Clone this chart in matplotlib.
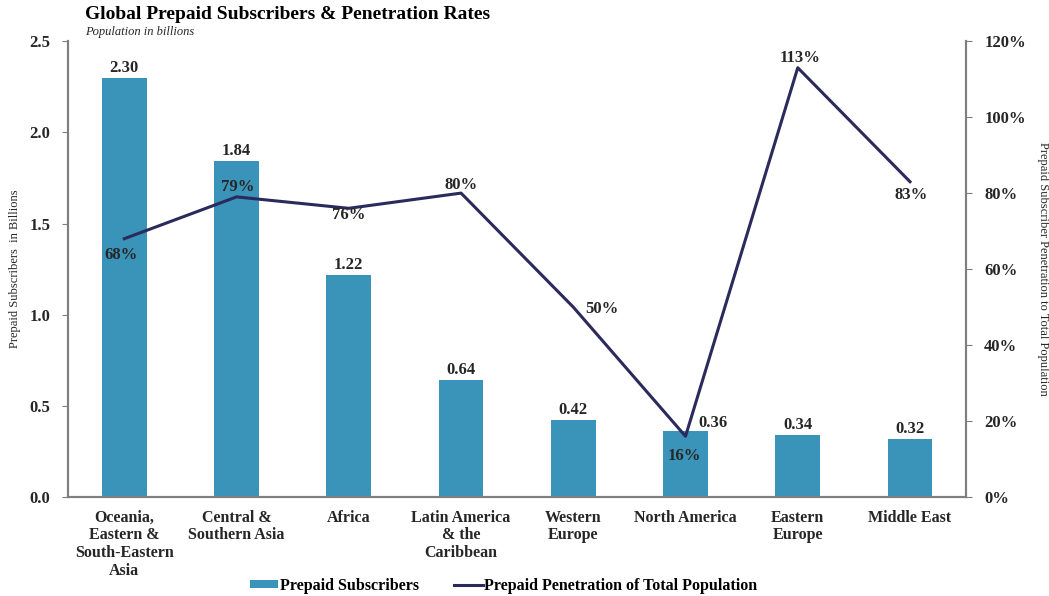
import numpy as np
import matplotlib
matplotlib.use("Agg")
import matplotlib.pyplot as plt
from matplotlib.ticker import FuncFormatter

plt.rcParams['font.family'] = ['Liberation Serif', 'DejaVu Serif']

regions = ["Oceania,\nEastern &\nSouth-Eastern\nAsia", "Central &\nSouthern Asia", "Africa",
           "Latin America\n& the\nCaribbean", "Western\nEurope", "North America",
           "Eastern\nEurope", "Middle East"]
subscribers = [2.30, 1.84, 1.22, 0.64, 0.42, 0.36, 0.34, 0.32]
penetration = [68, 79, 76, 80, 50, 16, 113, 83]

# label nudges in pixels (dx, dy) to keep them where the original had them
pct_offsets = [(-3, -16), (1, 10), (0, -7), (0, 8), (29, -2), (-1, -20), (2, 10), (1, -13)]
val_offsets = [(0, 10), (0, 10), (0, 10), (0, 10), (0, 10), (27, 8), (0, 10), (0, 10)]

bar_col = "#3a93b8"
line_col = "#2b2a5c"
spine_col = "#7f7f7f"
txt_col = "#262626"
px = 0.72  # points per pixel at dpi 100

fig = plt.figure(figsize=(10.49, 5.96), dpi=100)
ax = fig.add_axes([0.065, 0.166, 0.856, 0.765])
ax2 = ax.twinx()

x = np.arange(len(regions))
bars = ax.bar(x, subscribers, width=0.4, color=bar_col, label="Prepaid Subscribers", zorder=2)
for xi, v, (dx, dy) in zip(x, subscribers, val_offsets):
    ax.annotate(f"{v:.2f}", (xi, v), xytext=(dx * px, dy * px), textcoords="offset points",
                ha="center", va="center", fontsize=12, fontweight="bold", color=txt_col)

ln, = ax2.plot(x, penetration, color=line_col, lw=2.2,
               label="Prepaid Penetration of Total Population", zorder=3)
for xi, v, (dx, dy) in zip(x, penetration, pct_offsets):
    ax2.annotate(f"{v}%", (xi, v), xytext=(dx * px, dy * px), textcoords="offset points",
                 ha="center", va="center", fontsize=12, fontweight="bold", color=txt_col)

ax.set_xlim(-0.5, 7.5)
ax.set_ylim(0, 2.5)
ax.set_yticks(np.arange(0, 2.51, 0.5))
ax.yaxis.set_major_formatter(FuncFormatter(lambda v, _: f"{v:.1f}"))
ax2.set_ylim(0, 120)
ax2.set_yticks(np.arange(0, 121, 20))
ax2.yaxis.set_major_formatter(FuncFormatter(lambda v, _: f"{v:.0f}%"))

ax.set_xticks(x)
ax.set_xticklabels(regions, fontsize=11.5, fontweight="bold", color=txt_col, va="top",
                   linespacing=1.15)
ax.tick_params(axis="x", length=0, pad=9)
ax.tick_params(axis="y", length=4, color=spine_col, labelsize=12, labelcolor=txt_col, pad=9)
ax2.tick_params(axis="y", length=4, color=spine_col, labelsize=12, labelcolor=txt_col, pad=9)
for lbl in ax.get_yticklabels() + ax2.get_yticklabels():
    lbl.set_fontweight("bold")

for a in (ax, ax2):
    a.spines["top"].set_visible(False)
    for s in ("left", "right", "bottom"):
        a.spines[s].set_color(spine_col)
        a.spines[s].set_linewidth(1.5)

ax.set_ylabel("Prepaid Subscribers  in Billions", fontsize=9, color=txt_col, labelpad=6)
ax2.set_ylabel("Prepaid Subscriber Penetration to Total Population", fontsize=9,
               color=txt_col, rotation=-90, va="bottom", labelpad=8)

fig.text(0.081, 0.976, "Global Prepaid Subscribers & Penetration Rates", fontsize=14,
         fontweight="bold", color="black", va="center")
fig.text(0.081, 0.946, "Population in billions", fontsize=9, style="italic",
         color=txt_col, va="center")

fig.legend([bars, ln], ["Prepaid Subscribers", "Prepaid Penetration of Total Population"],
           loc="center", bbox_to_anchor=(0.48, 0.017), ncol=2, frameon=False,
           prop={"weight": "bold", "size": 11.5}, handlelength=1.8, handleheight=0.4,
           handletextpad=0.1, columnspacing=2.2)

fig.savefig("out.png", dpi=100)
